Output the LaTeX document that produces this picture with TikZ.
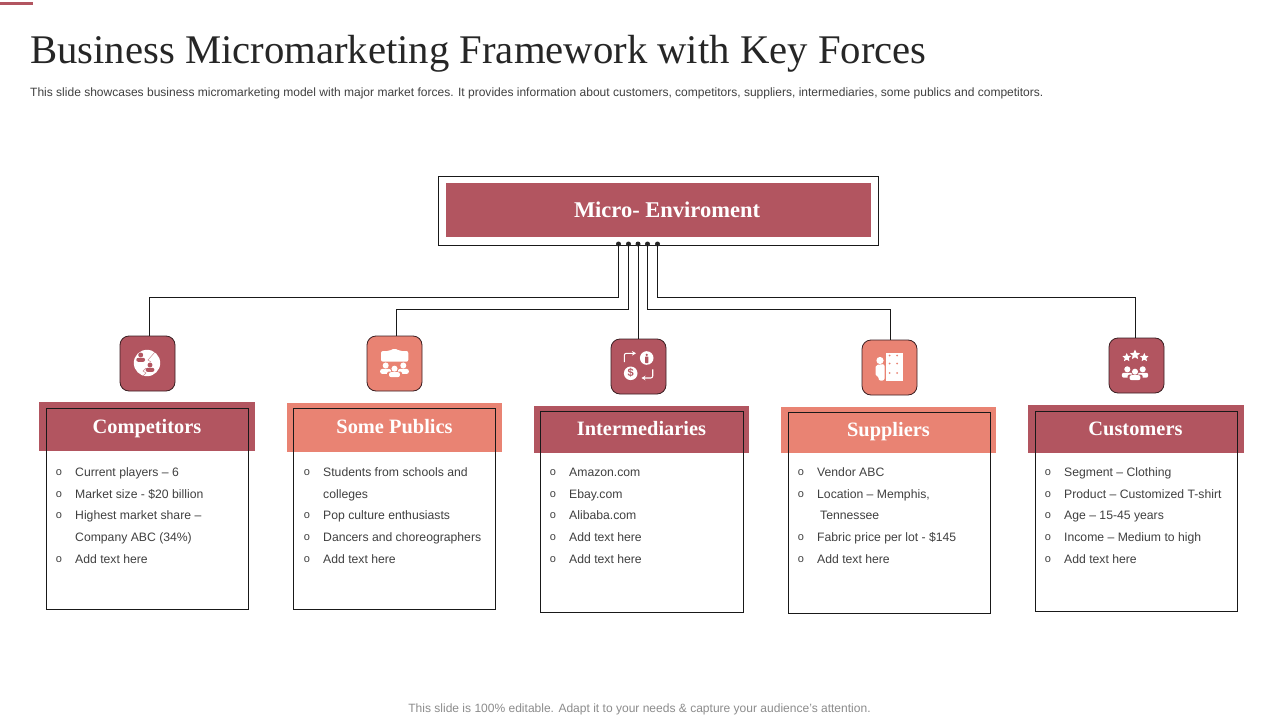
\documentclass[tikz,border=0pt]{standalone}
\usepackage{fontspec}
\setmainfont{Liberation Sans}
\newfontfamily\serifbody{Liberation Serif}
\usetikzlibrary{shapes.geometric,arrows.meta}
\definecolor{darkrose}{HTML}{B25560}
\definecolor{salmon}{HTML}{E98373}
\definecolor{iconline}{HTML}{3A1F22}
\definecolor{bodytext}{HTML}{404040}
\definecolor{titletext}{HTML}{262626}
\definecolor{foot}{HTML}{8C8C8C}
\tikzset{
  x=1pt,y=-1pt,
  bandtext/.style={text=white,font=\serifbody\bfseries\fontsize{20.4}{22}\selectfont,inner sep=0pt,anchor=base},
  framebox/.style={draw=black!90,line width=.6pt},
  iconbox/.style={draw=iconline,line width=.8pt,rounded corners=9pt,minimum size=55pt,inner sep=0pt,outer sep=0pt},
  linkline/.style={draw=black!90,line width=.8pt},
  hubdot/.style={circle,fill=black!85,minimum size=5pt,inner sep=0pt,outer sep=0pt},
  rowtext/.style={text=bodytext,font=\fontsize{12.2}{14}\selectfont,anchor=base west,inner sep=0pt},
  bulletmark/.style={text=bodytext,font=\fontsize{11}{11}\selectfont,anchor=base,inner sep=0pt},
  whitestar/.style={star,star points=5,star point ratio=2.1,fill=white,inner sep=0pt,minimum size=#1}
}
\newcommand{\personmark}[4]{% x y scale colour
  \fill[#4] (#1,#2) circle[radius=2.9*#3];
  \fill[#4,rounded corners=2pt] (#1-5.2*#3,#2+8*#3) -- (#1-5.2*#3,#2+3.3*#3) -- (#1+5.2*#3,#2+3.3*#3) -- (#1+5.2*#3,#2+8*#3) -- cycle;
}
\newcommand{\itemrow}[4]{% bullet x, text x, y, text
  \node[bulletmark] at (#1,#3+3.2) {o};
  \node[rowtext] at (#2,#3+4.2) {#4};
}
\begin{document}
\begin{tikzpicture}
\useasboundingbox (0,0) rectangle (1280,720);
\fill[white] (0,0) rectangle (1280,720);
\fill[darkrose] (0,2) rectangle (33,5);

\node[anchor=base west,inner sep=0pt,text=titletext,font=\serifbody\fontsize{40.7}{44}\selectfont] (title) at (30,63) {Business Micromarketing Framework with Key Forces};
\node[anchor=base west,inner sep=0pt,text=bodytext,font=\fontsize{12.02}{14}\selectfont] (sub) at (30,96.8) {This slide showcases business micromarketing model with major market forces. It provides information about customers, competitors, suppliers, intermediaries, some publics and competitors.};

% top
\draw[framebox] (438.5,176) rectangle (878.5,245.5);
\fill[darkrose] (446,183) rectangle (871,237);
\node[bandtext,font=\serifbody\bfseries\fontsize{22.5}{24}\selectfont] (env) at (667,217) {Micro- Enviroment};

% hubs and icons
\node[hubdot] (h1) at (618.5,244) {};
\node[hubdot] (h2) at (628.5,244) {};
\node[hubdot] (h3) at (638,244) {};
\node[hubdot] (h4) at (647.5,244) {};
\node[hubdot] (h5) at (657.5,244) {};

\node[iconbox,fill=darkrose] (ic1) at (147.5,363.5) {};
\node[iconbox,fill=salmon] (ic2) at (394.5,363.5) {};
\node[iconbox,fill=darkrose] (ic3) at (638.5,366.5) {};
\node[iconbox,fill=salmon] (ic4) at (889.5,367.5) {};
\node[iconbox,fill=darkrose] (ic5) at (1136.5,365.5) {};

\coordinate (b1) at (149,297);
\coordinate (b2) at (396.5,309);
\coordinate (b4) at (890,309);
\coordinate (b5) at (1135,297.5);
\draw[linkline] (h1.center) |- (b1) -- (b1 |- ic1.north);
\draw[linkline] (h2.center) |- (b2) -- (b2 |- ic2.north);
\draw[linkline] (h3.center) -- (h3.center |- ic3.north);
\draw[linkline] (h4.center) |- (b4) -- (b4 |- ic4.north);
\draw[linkline] (h5.center) |- (b5) -- (b5 |- ic5.north);

% icon 1
\fill[white] (147,363) circle[radius=13.2];
\draw[darkrose!70,line width=.5pt] (155,352) -- (148,360) -- (151,362);
\draw[darkrose!70,line width=.5pt] (146,368) -- (143,371) -- (146,373) -- (143,376);
\personmark{140.7}{355}{.85}{darkrose}
\personmark{150}{365}{.85}{darkrose}

% icon 2
\fill[white,rounded corners=2pt] (381,351) -- (389,351) -- (394.5,348.3) -- (400,351) -- (408.3,351) -- (408.3,361.7) -- (381,361.7) -- cycle;
\personmark{385.7}{365.5}{1.05}{white}
\personmark{403.3}{365.5}{1.05}{white}
\fill[salmon] (394.5,368.7) circle[radius=4];
\fill[salmon,rounded corners=1.5pt] (387,378) rectangle (402,371.5);
\personmark{394.5}{368.7}{1.05}{white}

% icon 3
\draw[white,line width=1.1pt,rounded corners=2pt,-{Stealth[length=4pt,width=4.5pt]}] (624.3,362) -- (624.3,353.3) -- (636,353.3);
\fill[white] (646.7,358) circle[radius=6.8];
\fill[darkrose] (646.7,354.9) circle[radius=1.3];
\fill[darkrose,rounded corners=.6pt] (645,356.5) rectangle (648.4,363);
\fill[white] (630.7,373.3) circle[radius=6.8];
\node[text=darkrose,font=\bfseries\fontsize{11}{11}\selectfont,inner sep=0pt] (dollar) at (630.7,373.3) {\$};
\draw[white,line width=1.1pt,rounded corners=2pt,-{Stealth[length=4pt,width=4.5pt]}] (652.7,369.3) -- (652.7,378) -- (641.5,378);

% icon 4
\fill[white] (885.5,353) rectangle (902.5,380.5);
\foreach \px in {889.5,897}{\foreach \py in {355.5,363.5,373}{\fill[salmon] (\px,\py) circle[radius=1];}}
\fill[white] (880,360.5) circle[radius=3.6];
\fill[white,rounded corners=2pt] (875.5,376) -- (875.5,365) -- (884.5,364) -- (884.5,380.5) -- (878.5,380.5) -- (878.5,376) -- cycle;

% icon 5
\node[whitestar=9pt] (s1) at (1126.7,357.5) {};
\node[whitestar=10.5pt] (s2) at (1135,354.8) {};
\node[whitestar=9pt] (s3) at (1144.3,357.5) {};
\personmark{1127.3}{369.3}{1.05}{white}
\personmark{1142.7}{369.3}{1.05}{white}
\fill[darkrose] (1135,371.7) circle[radius=4];
\fill[darkrose,rounded corners=1.5pt] (1127.5,380.5) rectangle (1142.5,374.5);
\personmark{1135}{371.7}{1.05}{white}

% bands
\fill[darkrose] (39,402) rectangle (255,451);
\fill[salmon] (287,403) rectangle (502,452);
\fill[darkrose] (534,406) rectangle (749,453);
\fill[salmon] (781,407) rectangle (996,453);
\fill[darkrose] (1028,405) rectangle (1244,453);

\draw[framebox] (46.5,408.5) rectangle (248.5,609.5);
\draw[framebox] (293.5,408.5) rectangle (495.5,609.5);
\draw[framebox] (540.5,411.5) rectangle (743.5,612.5);
\draw[framebox] (788.5,412.5) rectangle (990.5,613.5);
\draw[framebox] (1035.5,411.5) rectangle (1237.5,611.5);

\node[bandtext] (t1) at (147,433) {Competitors};
\node[bandtext] (t2) at (394.5,433) {Some Publics};
\node[bandtext] (t3) at (641.5,435) {Intermediaries};
\node[bandtext] (t4) at (888.5,436) {Suppliers};
\node[bandtext] (t5) at (1135.5,435) {Customers};

\itemrow{59}{75}{472}{Current players – 6}
\itemrow{59}{75}{494}{Market size - \$20 billion}
\itemrow{59}{75}{515}{Highest market share –}
\node[rowtext] at (75,541.2) {Company ABC (34\%)};
\itemrow{59}{75}{559}{Add text here}

\itemrow{307}{323}{472}{Students from schools and}
\node[rowtext] at (323,498.2) {colleges};
\itemrow{307}{323}{515}{Pop culture enthusiasts}
\itemrow{307}{323}{537}{Dancers and choreographers}
\itemrow{307}{323}{559}{Add text here}

\itemrow{553}{569}{472}{Amazon.com}
\itemrow{553}{569}{494}{Ebay.com}
\itemrow{553}{569}{515}{Alibaba.com}
\itemrow{553}{569}{537}{Add text here}
\itemrow{553}{569}{559}{Add text here}

\itemrow{801}{817}{472}{Vendor ABC}
\itemrow{801}{817}{494}{Location – Memphis,}
\node[rowtext] at (820,519.2) {Tennessee};
\itemrow{801}{817}{537}{Fabric price per lot - \$145}
\itemrow{801}{817}{559}{Add text here}

\itemrow{1048}{1064}{472}{Segment – Clothing}
\itemrow{1048}{1064}{494}{Product – Customized T-shirt}
\itemrow{1048}{1064}{515}{Age – 15-45 years}
\itemrow{1048}{1064}{537}{Income – Medium to high}
\itemrow{1048}{1064}{559}{Add text here}

\node[anchor=base,inner sep=0pt,text=foot,font=\fontsize{12.03}{14}\selectfont] (footer) at (639.5,712.8) {This slide is 100\% editable. Adapt it to your needs \& capture your audience’s attention.};
\end{tikzpicture}
\end{document}
